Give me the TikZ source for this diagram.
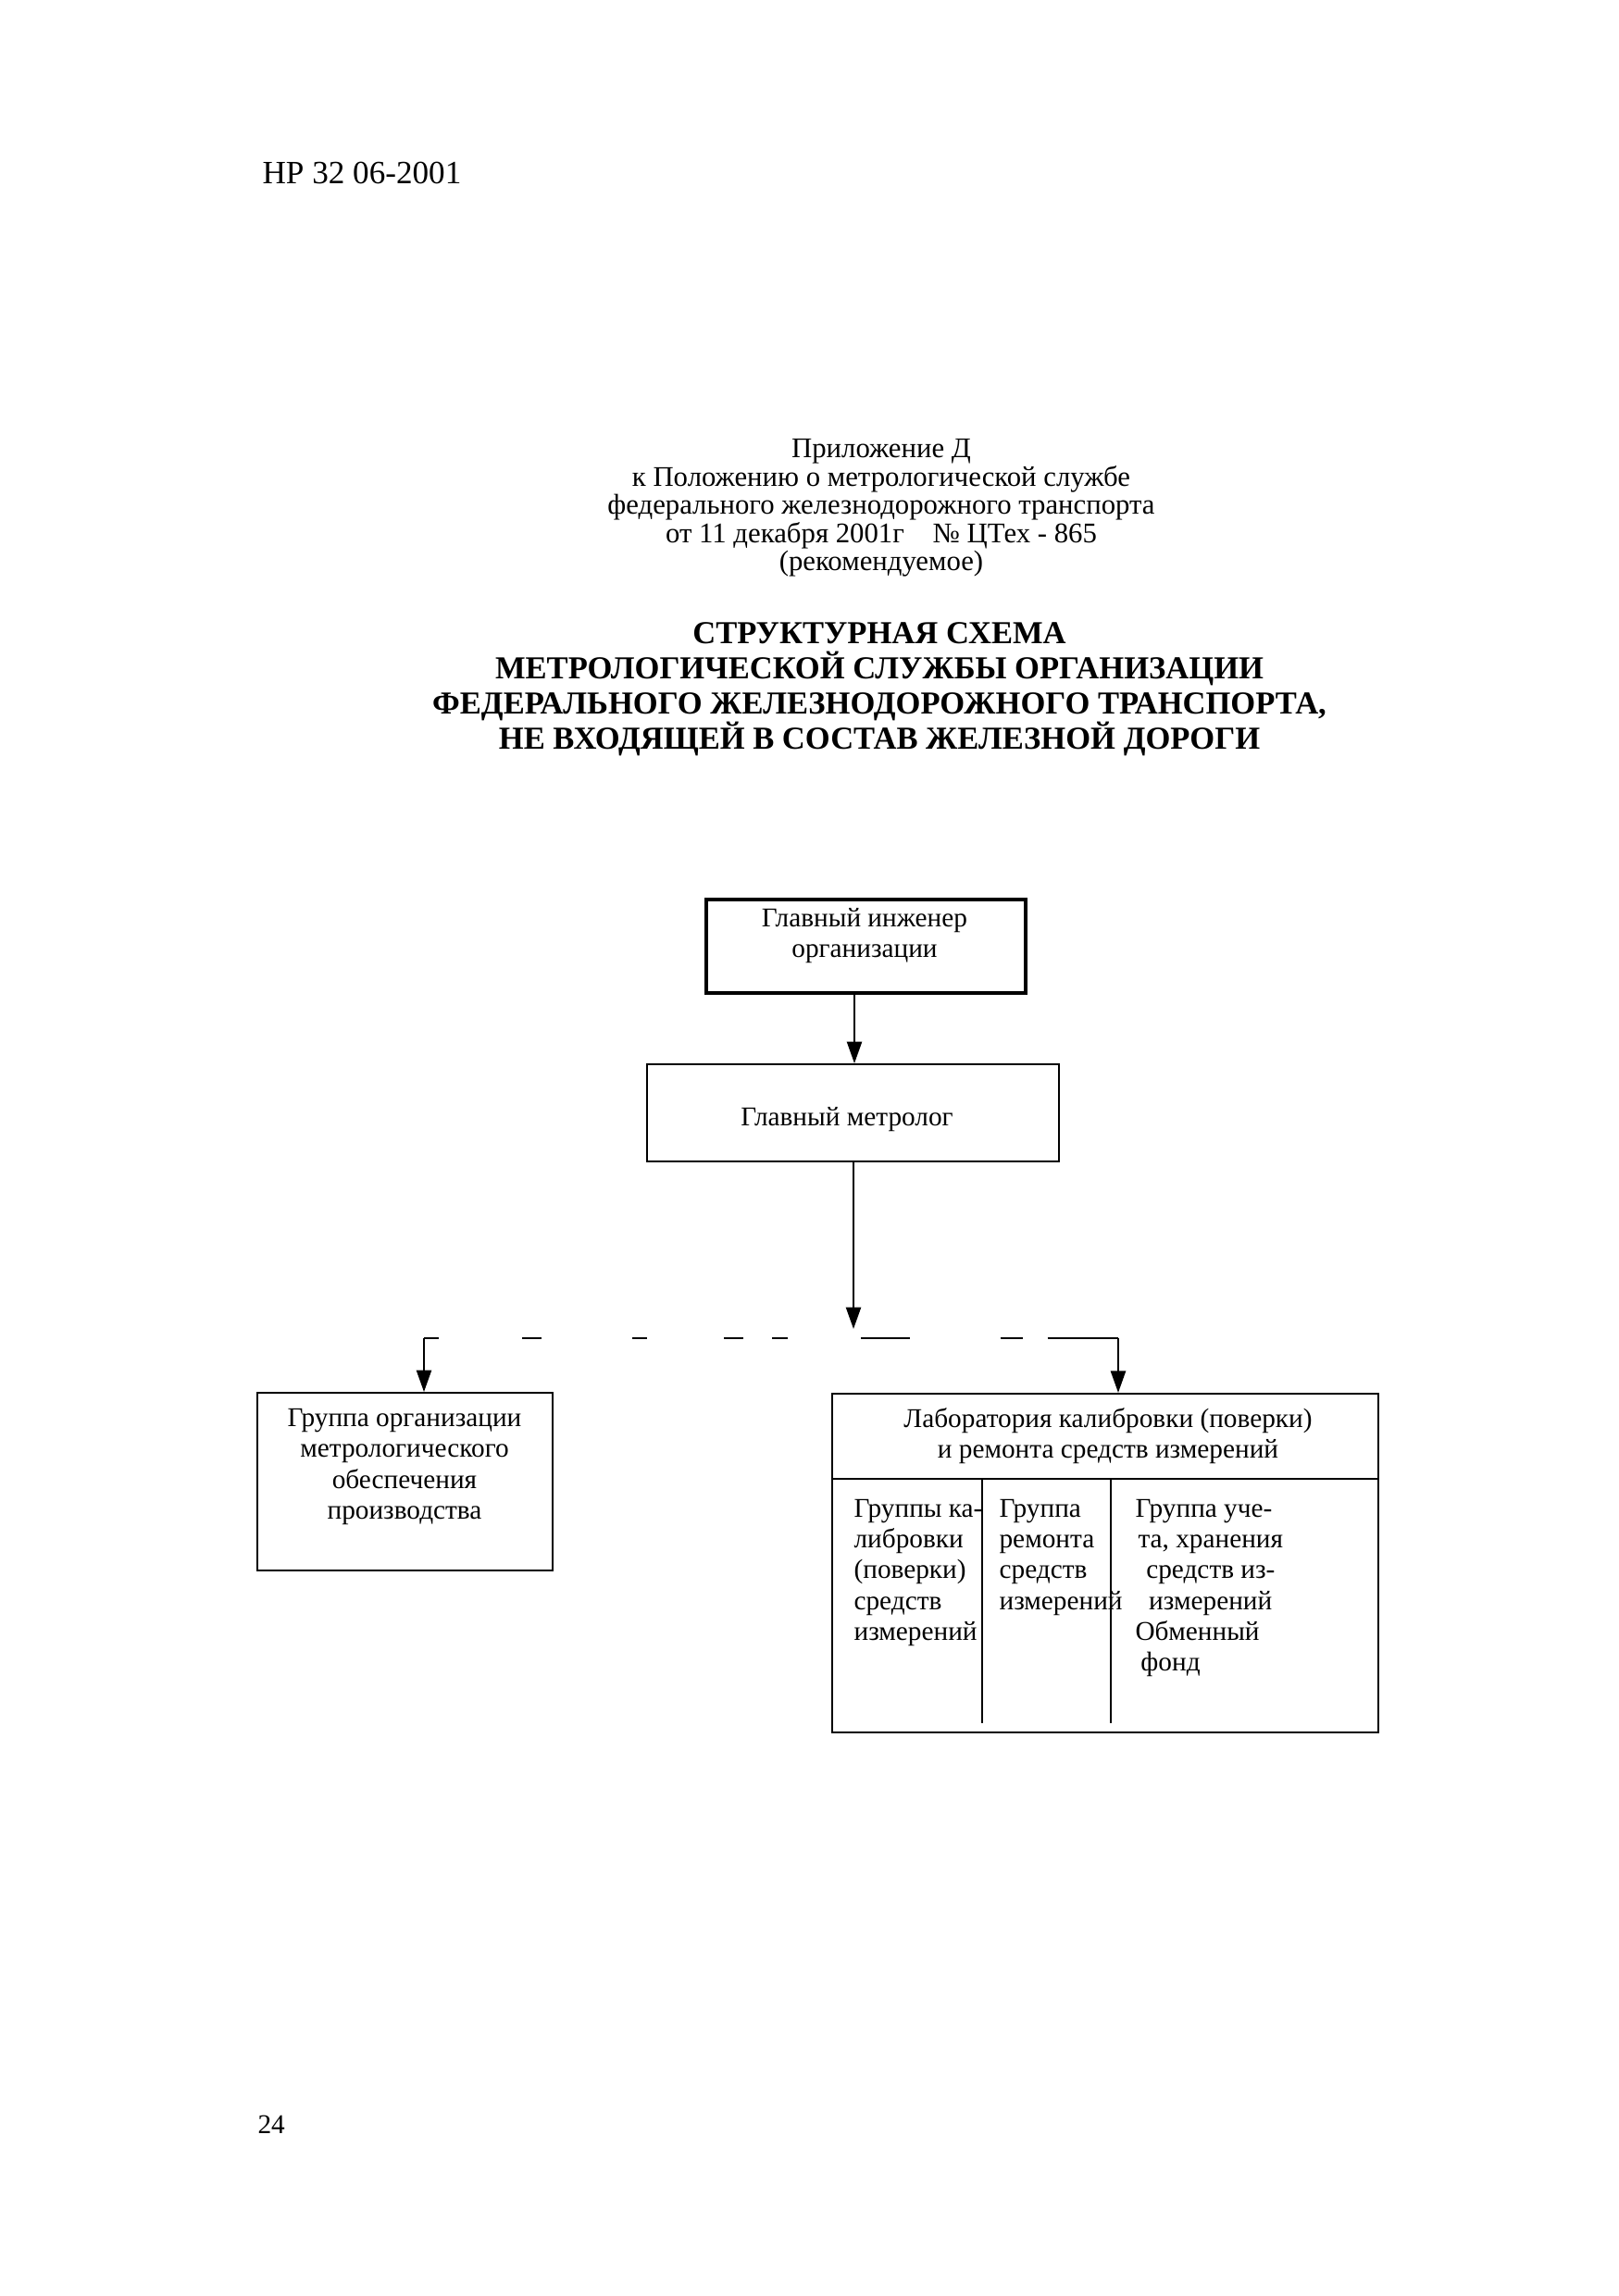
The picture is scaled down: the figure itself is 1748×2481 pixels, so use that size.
\documentclass[tikz,border=0pt]{standalone}
\usepackage{fontspec}
\setmainfont{Liberation Serif}
\usetikzlibrary{arrows.meta}
\begin{document}
\begin{tikzpicture}[x=0.3414pt,y=-0.3414pt,
  box/.style={draw, line width=0.7pt, inner sep=0pt},
  conn/.style={line width=0.7pt},
  arr/.style={conn, -{Triangle[length=8pt,width=5.5pt]}},
  txt/.style={font=\fontsize{10}{11.3}\selectfont, align=center, inner sep=0pt},
  coltxt/.style={font=\fontsize{10}{11.3}\selectfont, align=left, inner sep=0pt, anchor=north west}]
\useasboundingbox (0,0) rectangle (1748,2481);
% header and page number
\node[anchor=west, inner sep=0pt, font=\fontsize{12}{14}\selectfont] (hdr) at (283,187) {НР 32 06-2001};
\node[anchor=west, inner sep=0pt, font=\fontsize{10}{12}\selectfont] (pg) at (278,2296) {24};
% appendix block
\node[txt, font=\fontsize{10.5}{10.4}\selectfont] (app) at (952,549) {Приложение Д\\к Положению о метрологической службе\\федерального железнодорожного транспорта\\от 11 декабря 2001г\quad № ЦТех - 865\\(рекомендуемое)};
% title
\node[txt, font=\fontsize{11.8}{13}\selectfont\bfseries] (title) at (950,745) {СТРУКТУРНАЯ СХЕМА\\МЕТРОЛОГИЧЕСКОЙ СЛУЖБЫ ОРГАНИЗАЦИИ\\ФЕДЕРАЛЬНОГО ЖЕЛЕЗНОДОРОЖНОГО ТРАНСПОРТА,\\НЕ ВХОДЯЩЕЙ В СОСТАВ ЖЕЛЕЗНОЙ ДОРОГИ};
% boxes
\node[box, line width=1.2pt, minimum width=117.8pt, minimum height=34.5pt] (b1) at (935.5,1022.5) {};
\node[txt] (b1t) at (934,1011) {Главный инженер\\организации};
\node[box, minimum width=151.9pt, minimum height=35.8pt] (b2) at (921.5,1202.5) {};
\node[txt] (b2t) at (915,1210) {Главный метролог};
\node[box, minimum width=108.9pt, minimum height=65.5pt] (lb) at (437.5,1601) {};
\node[txt] (lbt) at (437,1585) {Группа организации\\метрологического\\обеспечения\\производства};
\node[box, minimum width=201.4pt, minimum height=125pt] (rb) at (1194,1689) {};
\node[txt] (rbt) at (1197,1552) {Лаборатория калибровки (поверки)\\и ремонта средств измерений};
% right box internal divisions
\coordinate (hdiv) at (0,1598);
\coordinate (v1) at (1061,1862);
\coordinate (v2) at (1200,1862);
\draw[line width=0.7pt] (rb.west |- hdiv) -- (rb.east |- hdiv);
\draw[line width=0.7pt] (v1 |- hdiv) -- (v1);
\draw[line width=0.7pt] (v2 |- hdiv) -- (v2);
\node[coltxt] (c1) at (922,1620) {Группы ка-\\либровки\\(поверки)\\средств\\измерений};
\node[coltxt] (c2) at (1079,1620) {Группа\\ремонта\\средств\\измерений};
\node[coltxt] (c3) at (1226,1620) {Группа уче-\\\hspace*{1pt}та, хранения\\\hspace*{4pt}средств из-\\\hspace*{5pt}измерений\\Обменный\\\hspace*{2pt}фонд};
% connectors
\coordinate (spine) at (923,0);
\coordinate (tip) at (922,1436);
\coordinate (hl) at (458,1446);
\coordinate (hr) at (1208,1446);
\draw[arr] (spine |- b1.south) -- (spine |- b2.north);
\draw[arr] (tip |- b2.south) -- (tip);
\draw[conn, dash pattern=on 5.5pt off 30.7pt on 7.2pt off 33.5pt on 5.5pt off 28.3pt on 7.2pt off 10.6pt on 5.5pt off 27.3pt on 17.8pt off 33.5pt on 8.2pt off 9.2pt on 26.3pt] (hl) -- (hr);
\draw[arr] (hl) -- (hl |- lb.north);
\draw[arr] (hr) -- (hr |- rb.north);
\end{tikzpicture}
\end{document}
